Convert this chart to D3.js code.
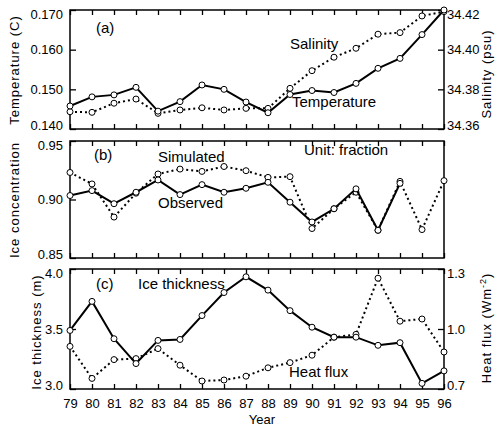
<!DOCTYPE html>
<html>
<head>
<meta charset="utf-8">
<script src="https://cdn.jsdelivr.net/npm/d3@7"></script>
<style>
  body { margin: 0; background: #fff; }
  text { font-family: "Liberation Sans", Arial, sans-serif; fill: #000; }
  .axis path, .axis line { stroke: #000; stroke-width: 1.3; }
  .axis text { font-size: 13px; }
  .frame { fill: none; stroke: #000; stroke-width: 1.5; }
  .solid { fill: none; stroke: #000; stroke-width: 2; }
  .dotted { fill: none; stroke: #000; stroke-width: 2; stroke-dasharray: 2,3; }
  .dot { fill: #fff; stroke: #000; stroke-width: 1; }
</style>
</head>
<body>
<div id="chart"></div>
<script>
// Values
var years = [79, 80, 81, 82, 83, 84, 85, 86, 87, 88, 89, 90, 91, 92, 93, 94, 95, 96];

// (a) temperature (C) and salinity (psu)
var temperature = [0.1458, 0.1481, 0.1486, 0.1505, 0.1445, 0.1469, 0.1511, 0.1500, 0.1468,
    0.1441, 0.1487, 0.1497, 0.1492, 0.1515, 0.1553, 0.1578, 0.1638, 0.1700];
var salinity = [34.3687, 34.3684, 34.3730, 34.3751, 34.3679, 34.3696, 34.3707, 34.3696, 34.3704,
    34.3704, 34.3805, 34.3894, 34.3962, 34.4007, 34.4078, 34.4086, 34.4170, 34.4192];

// (b) ice concentration, observed stops at 94
var iceObserved = [0.9034, 0.9076, 0.8964, 0.9062, 0.9167, 0.9042, 0.9127, 0.9062, 0.9096,
    0.9147, 0.8977, 0.8808, 0.8921, 0.9091, 0.8737, 0.9138];
var iceSimulated = [0.9231, 0.9133, 0.8850, 0.9054, 0.9218, 0.9260, 0.9240, 0.9282, 0.9246,
    0.9189, 0.9195, 0.8752, 0.8921, 0.9062, 0.8737, 0.9155, 0.8743, 0.9161];

// (c) ice thickness (m) and heat flux (W m-2)
var iceThickness = [3.488, 3.730, 3.419, 3.212, 3.405, 3.413, 3.612, 3.804, 3.935,
    3.824, 3.653, 3.515, 3.432, 3.432, 3.364, 3.386, 3.047, 3.151];
var heatFlux = [0.913, 0.753, 0.847, 0.852, 0.902, 0.819, 0.740, 0.745, 0.764,
    0.806, 0.832, 0.869, 0.959, 0.973, 1.254, 1.039, 1.050, 0.885];

// tick labels
var tempTicks = [0.140, 0.150, 0.160, 0.170];
var salTicks = [34.36, 34.38, 34.40, 34.42];
var concTicks = [0.85, 0.90, 0.95];
var thickTicks = [3.0, 3.5, 4.0];
var fluxTicks = [0.7, 1.0, 1.3];

// Setting up the canvas
var width = 497,
    height = 427,
    left = 70,
    right = 444;

var svg = d3.select("#chart").append("svg")
    .attr("width", width)
    .attr("height", height);

var x = d3.scaleLinear()
    .domain([79, 96])
    .range([left, right]);

// frame top/bottom of each panel
var panels = [
    { top: 10, bottom: 129 },
    { top: 141, bottom: 258 },
    { top: 269, bottom: 389 }
];

var yTemp = d3.scaleLinear().domain([0.140, 0.170]).range([panels[0].bottom, panels[0].top]);
var ySal = d3.scaleLinear().domain([34.36, 34.42]).range([panels[0].bottom, panels[0].top]);
var yConc = d3.scaleLinear().domain([0.85, 0.95]).range([panels[1].bottom, panels[1].top]);
var yThick = d3.scaleLinear().domain([3.0, 4.0]).range([panels[2].bottom, panels[2].top]);
var yFlux = d3.scaleLinear().domain([0.7, 1.3]).range([panels[2].bottom, panels[2].top]);

// frames and year ticks on top and bottom of each panel
panels.forEach(function (p, i) {
    svg.append("g")
        .attr("class", "axis")
        .attr("transform", "translate(0," + p.top + ")")
        .call(d3.axisTop(x).tickValues(years).tickSize(-5).tickFormat(""))
        .select(".domain").remove();

    var bottomAxis = d3.axisBottom(x)
        .tickValues(years)
        .tickSizeInner(-5)
        .tickSizeOuter(0)
        .tickPadding(10)
        .tickFormat(i === 2 ? d3.format("d") : "");

    var g = svg.append("g")
        .attr("class", "axis")
        .attr("transform", "translate(0," + p.bottom + ")")
        .call(bottomAxis);
    g.select(".domain").remove();

    svg.append("rect")
        .attr("class", "frame")
        .attr("x", left)
        .attr("y", p.top)
        .attr("width", right - left)
        .attr("height", p.bottom - p.top);
});

// end labels sit a little inside the frame, as in the original
function nudge(g, scale) {
    var dom = scale.domain();
    g.selectAll(".tick text").attr("y", function (d) {
        if (Math.abs(d - dom[1]) < 1e-9) return 4;
        if (Math.abs(d - dom[0]) < 1e-9) return -4;
        return 0;
    });
}

function leftAxis(scale, ticks, fmt) {
    var g = svg.append("g")
        .attr("class", "axis")
        .attr("transform", "translate(" + left + ",0)")
        .call(d3.axisLeft(scale).tickValues(ticks).tickSizeInner(-6).tickSizeOuter(0)
            .tickPadding(7).tickFormat(d3.format(fmt)));
    g.select(".domain").remove();
    nudge(g, scale);
}

function rightAxis(scale, ticks, fmt) {
    var g = svg.append("g")
        .attr("class", "axis")
        .attr("transform", "translate(" + right + ",0)")
        .call(d3.axisRight(scale).tickValues(ticks).tickSizeInner(-6).tickSizeOuter(0)
            .tickPadding(3).tickFormat(d3.format(fmt)));
    g.select(".domain").remove();
    nudge(g, scale);
}

leftAxis(yTemp, tempTicks, ".3f");
rightAxis(ySal, salTicks, ".2f");
leftAxis(yConc, concTicks, ".2f");
leftAxis(yThick, thickTicks, ".1f");
rightAxis(yFlux, fluxTicks, ".1f");

// draws one series
function series(values, yScale, cls) {
    var pts = values.map(function (v, i) { return { x: years[i], y: v }; });
    var line = d3.line()
        .x(function (d) { return x(d.x); })
        .y(function (d) { return yScale(d.y); });

    svg.append("path")
        .datum(pts)
        .attr("class", cls)
        .attr("d", line);

    svg.append("g").selectAll("circle")
        .data(pts)
        .enter().append("circle")
        .attr("class", "dot")
        .attr("cx", function (d) { return x(d.x); })
        .attr("cy", function (d) { return yScale(d.y); })
        .attr("r", 3);
}

series(salinity, ySal, "dotted");
series(temperature, yTemp, "solid");
series(iceSimulated, yConc, "dotted");
series(iceObserved, yConc, "solid");
series(heatFlux, yFlux, "dotted");
series(iceThickness, yThick, "solid");

// labels inside the panels
function label(txt, lx, ly, size) {
    svg.append("text")
        .attr("x", lx)
        .attr("y", ly)
        .attr("dy", ".35em")
        .style("font-size", size + "px")
        .text(txt);
}

label("(a)", 96, 28, 15);
label("Salinity", 290, 44, 15);
label("Temperature", 292, 102, 15);
label("(b)", 94, 155, 15);
label("Simulated", 158, 157, 15);
label("Observed", 158, 203, 15);
label("Unit: fraction", 304, 150, 15);
label("(c)", 96, 284, 15);
label("Ice thickness", 138, 284, 15);
label("Heat flux", 289, 372, 15);

// axis titles
function vtitle(tx, ty) {
    return svg.append("text")
        .attr("transform", "translate(" + tx + "," + ty + ") rotate(-90)")
        .attr("text-anchor", "middle")
        .style("font-size", "13px")
        .style("letter-spacing", "1px");
}

vtitle(19, 70).text("Temperature (C)");
vtitle(19, 200).text("Ice concentration");
vtitle(41, 332).text("Ice thickness (m)");
vtitle(491, 74).text("Salinity (psu)");

var hf = vtitle(491, 328);
hf.append("tspan").text("Heat flux (Wm");
hf.append("tspan").attr("baseline-shift", "super").style("font-size", "9px").text("-2");
hf.append("tspan").text(")");

svg.append("text")
    .attr("x", 262)
    .attr("y", 424)
    .attr("text-anchor", "middle")
    .style("font-size", "13px")
    .text("Year");
</script>
</body>
</html>
